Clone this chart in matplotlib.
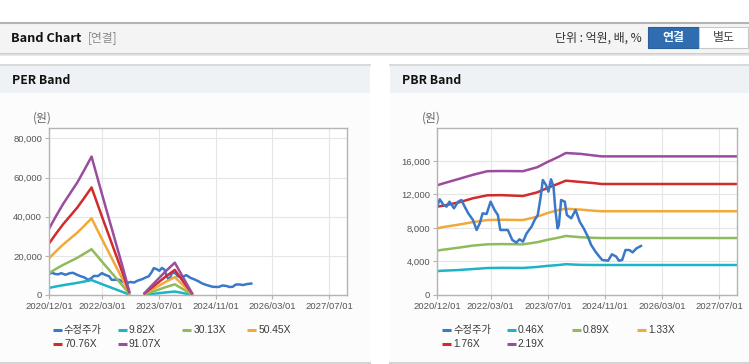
import numpy as np
import pandas as pd
import matplotlib
matplotlib.use('Agg')
import matplotlib.pyplot as plt
import matplotlib.dates as mdates
from matplotlib.patches import Rectangle
from matplotlib.ticker import FuncFormatter

plt.rcParams['font.family'] = ['Liberation Sans', 'Noto Sans CJK KR', 'DejaVu Sans']

# adjusted price (shared by both charts)
price_dates = ['2020-12-01', '2020-12-22', '2021-01-22', '2021-02-18', '2021-03-15', '2021-04-22',
               '2021-05-28', '2021-06-25', '2021-07-22', '2021-08-22', '2021-10-01', '2021-11-01',
               '2021-11-28', '2021-12-22', '2022-01-25', '2022-02-28', '2022-04-03', '2022-05-01',
               '2022-05-22', '2022-07-25', '2022-09-01', '2022-10-06', '2022-11-01', '2022-12-01',
               '2023-01-01', '2023-02-12', '2023-03-10', '2023-04-06', '2023-05-01', '2023-05-19',
               '2023-06-15', '2023-07-06', '2023-07-28', '2023-08-18', '2023-09-03', '2023-09-22',
               '2023-10-03', '2023-10-22', '2023-11-22', '2023-12-10', '2024-01-16', '2024-02-22',
               '2024-03-28', '2024-05-01', '2024-06-06', '2024-07-04', '2024-08-10', '2024-09-12',
               '2024-10-06', '2024-11-25', '2024-12-28', '2025-02-03', '2025-02-25', '2025-03-25',
               '2025-04-22', '2025-05-25', '2025-06-22', '2025-07-25', '2025-09-01']
price = [10630, 11420, 10750, 10550, 11140, 10350, 11140, 11340, 10550, 9750, 8950, 7760,
         8560, 9750, 9670, 11140, 10150, 9550, 7760, 7760, 6570, 6250, 6650, 6370,
         7360, 8160, 8950, 9550, 11740, 13730, 13130, 12340, 13810, 12940, 10150, 7960,
         8360, 11340, 11140, 9550, 9150, 10150, 8760, 7960, 6970, 5970, 5170, 4580,
         4180, 4100, 4860, 4580, 4100, 4180, 5370, 5370, 5090, 5570, 5850]

# PER band (gap where earnings were negative)
per_dates = ['2020-12-01', '2021-02-01', '2021-04-01', '2021-06-01', '2021-08-01', '2021-10-01',
             '2021-12-01', '2022-03-01', '2022-06-01', '2022-09-01', '2022-10-20', '2022-12-15',
             '2023-03-01', '2023-05-01', '2023-07-01', '2023-09-01', '2023-11-15', '2024-01-15',
             '2024-04-10']
per_labels = ['9.82X', '30.13X', '50.45X', '70.76X', '91.07X']
per_982 = [3640, 4370, 5010, 5610, 6200, 6900, 7620, 5540, 3460, 1380, 200, np.nan,
           110, 520, 920, 1330, 1780, 1080, 110]
per_3013 = [11180, 13400, 15380, 17200, 19020, 21170, 23390, 17000, 10620, 4230, 630, np.nan,
            330, 1590, 2810, 4070, 5460, 3320, 330]
per_5045 = [18730, 22440, 25760, 28810, 31860, 35460, 39170, 28480, 17780, 7090, 1050, np.nan,
            550, 2660, 4710, 6810, 9140, 5560, 550]
per_7076 = [26260, 31470, 36130, 40400, 44680, 49730, 54930, 39940, 24940, 9950, 1480, np.nan,
            780, 3730, 6600, 9560, 12820, 7800, 780]
per_9107 = [33800, 40500, 46500, 52000, 57500, 64000, 70700, 51400, 32100, 12800, 1900, np.nan,
            1000, 4800, 8500, 12300, 16500, 10040, 1000]

# PBR band
pbr_dates = ['2020-12-01', '2021-01-15', '2021-06-01', '2021-10-01', '2022-02-01', '2022-06-01',
             '2022-12-01', '2023-04-01', '2023-07-01', '2023-10-01', '2023-12-01', '2024-04-01',
             '2024-08-01', '2024-10-01', '2027-12-01']
pbr_labels = ['0.46X', '0.89X', '1.33X', '1.76X', '2.19X']
pbr_046 = [2850, 2900, 2980, 3100, 3220, 3240, 3230, 3350, 3480, 3580, 3680, 3600, 3580, 3580, 3580]
pbr_089 = [5300, 5400, 5650, 5900, 6050, 6080, 6050, 6300, 6600, 6850, 7050, 6900, 6820, 6800, 6800]
pbr_133 = [7950, 8100, 8400, 8700, 8950, 8980, 8950, 9350, 9800, 10150, 10300, 10200, 10050, 10000, 10000]
pbr_176 = [10550, 10650, 11050, 11550, 11900, 11920, 11820, 12250, 12800, 13300, 13650, 13500, 13350, 13250, 13250]
pbr_219 = [13100, 13300, 13850, 14350, 14780, 14800, 14780, 15250, 15900, 16500, 16950, 16850, 16650, 16550, 16550]

tick_dates = ['2020-12-01', '2022-03-01', '2023-07-01', '2024-11-01', '2026-03-01', '2027-07-01']
colors = ['#3a78c9', '#1fb3c6', '#8fbb5c', '#f2a93b', '#d12b2b', '#9a4d9e']

W, H = 749, 364
fig = plt.figure(figsize=(W / 100, H / 100), dpi=100)
fig.patch.set_facecolor('white')

# background/decoration layer in pixel coordinates
bg = fig.add_axes([0, 0, 1, 1], zorder=-10)
bg.set_xlim(0, W)
bg.set_ylim(H, 0)
bg.axis('off')

bg.add_patch(Rectangle((0, 22), W, 31, facecolor='#f4f4f4', edgecolor='none'))
bg.plot([0, W], [22.5, 22.5], color='#b4b4b4', lw=1.5)
bg.plot([0, W], [53.5, 53.5], color='#c4c4c4', lw=1.2)
bg.plot([0, W], [55, 55], color='#e4e4e4', lw=1.2)
bg.text(11, 38, 'Band Chart', fontsize=9.2, fontweight='bold', color='#111111',
        va='center', family=['Noto Sans CJK KR'])
bg.text(88, 38, '[연결]', fontsize=8.5, color='#8a8a8a', va='center', family=['Noto Sans CJK KR'])
bg.text(642, 38, '단위 : 억원, 배, %', fontsize=8.6, color='#333333', va='center', ha='right',
        family=['Noto Sans CJK KR'])
bg.add_patch(Rectangle((648, 27), 51, 21, facecolor='#2f6db0', edgecolor='#2a5f9c', lw=0.8))
bg.add_patch(Rectangle((699, 27), 49, 21, facecolor='white', edgecolor='#c8c8c8', lw=0.8))
bg.text(673.5, 37.5, '연결', fontsize=8.6, fontweight='bold', color='white', ha='center', va='center',
        family=['Noto Sans CJK KR'])
bg.text(723.5, 37.5, '별도', fontsize=8.6, color='#444444', ha='center', va='center',
        family=['Noto Sans CJK KR'])

for x0, x1, name in [(0, 370, 'PER Band'), (390, W, 'PBR Band')]:
    bg.add_patch(Rectangle((x0, 64), x1 - x0, 29, facecolor='#eef2f7', edgecolor='none'))
    bg.add_patch(Rectangle((x0, 93), x1 - x0, 270, facecolor='#fcfcfc', edgecolor='none'))
    bg.plot([x0, x1], [64.5, 64.5], color='#d4d4d4', lw=1.2)
    bg.plot([x0, x1], [363, 363], color='#d4d4d4', lw=1.5)
    bg.text(x0 + 12, 80, name, fontsize=8.8, fontweight='bold', color='#111111', va='center',
            family=['Noto Sans CJK KR'])


def px_axes(left, top, right, bottom):
    return fig.add_axes([left / W, 1 - bottom / H, (right - left) / W, (bottom - top) / H])


def style_axis(ax, ymax, yticks):
    ax.set_facecolor('white')
    ax.set_xlim(pd.Timestamp('2020-12-01'), pd.Timestamp('2027-12-01'))
    ax.set_ylim(0, ymax)
    ax.set_yticks(yticks)
    ax.yaxis.set_major_formatter(FuncFormatter(lambda v, p: f'{int(v):,}'))
    ax.set_xticks(pd.to_datetime(tick_dates))
    ax.xaxis.set_major_formatter(mdates.DateFormatter('%Y/%m/%d'))
    ax.grid(True, color='#e6e6e6', lw=0.8)
    ax.set_axisbelow(True)
    for s in ax.spines.values():
        s.set_color('#b4b4b4')
        s.set_linewidth(1.0)
    ax.tick_params(axis='both', labelsize=6.8, colors='#b4b4b4', labelcolor='#555555', length=3, width=0.8)
    ax.tick_params(axis='x', pad=2)
    ax.tick_params(axis='y', pad=2)


def legend(x0, dx, labels):
    for i, (lab, c) in enumerate(zip(labels, colors)):
        row, col = divmod(i, 4)
        x = x0 + col * dx
        y = 330 + row * 14
        bg.plot([x, x + 9], [y, y], color=c, lw=2.2, solid_capstyle='butt')
        bg.text(x + 11, y, lab, fontsize=7.4, color='#3a3a3a', va='center')


# PER chart
ax1 = px_axes(49, 128, 347, 295)
style_axis(ax1, 85300, [0, 20000, 40000, 60000, 80000])
pdts = pd.to_datetime(per_dates)
ax1.plot(pd.to_datetime(price_dates), price, color=colors[0], lw=1.8)
for vals, c in zip([per_982, per_3013, per_5045, per_7076, per_9107], colors[1:]):
    ax1.plot(pdts, vals, color=c, lw=1.8)
bg.text(33, 118, '(원)', fontsize=8.5, color='#666666', va='center', family=['Noto Sans CJK KR'])
legend(53, 64.7, ['수정주가'] + per_labels)

# PBR chart
ax2 = px_axes(437.3, 128.3, 737.3, 295)
style_axis(ax2, 19900, [0, 4000, 8000, 12000, 16000])
bdts = pd.to_datetime(pbr_dates)
for vals, c in zip([pbr_046, pbr_089, pbr_133, pbr_176, pbr_219], colors[1:]):
    ax2.plot(bdts, vals, color=c, lw=1.8)
ax2.plot(pd.to_datetime(price_dates), price, color=colors[0], lw=1.8)
bg.text(422, 118, '(원)', fontsize=8.5, color='#666666', va='center', family=['Noto Sans CJK KR'])
legend(442, 65, ['수정주가'] + pbr_labels)

fig.savefig('out.png', dpi=100)
